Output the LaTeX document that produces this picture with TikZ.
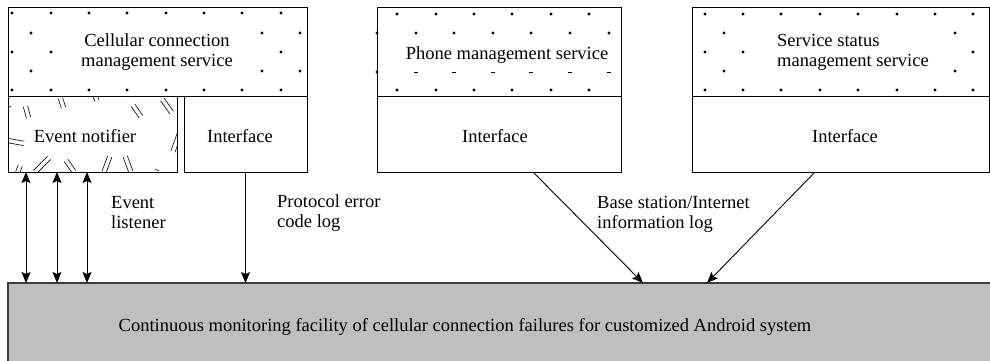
\documentclass[tikz,border=0pt]{standalone}
\usepackage{fontspec}
\setmainfont{Liberation Serif}
\usetikzlibrary{arrows.meta}
\definecolor{monfill}{RGB}{190,191,193}
\definecolor{monline}{RGB}{60,60,60}
\newcommand\hatchmark[4]{%
  \begin{scope}[shift={(#1,#2)},rotate=#3]
    \draw[hatchline] (-#4/2,-2.2) -- (#4/2,-2.2);
    \draw[hatchline] (-#4/2,2.2) -- (#4/2,2.2);
  \end{scope}}
\begin{document}
\begin{tikzpicture}[x=1pt,y=-1pt,
  blk/.style={draw=black,line width=1pt,inner sep=0pt,outer sep=0pt},
  txt/.style={font=\fontsize{18.5}{20}\selectfont,inner sep=0pt,align=center},
  txtl/.style={font=\fontsize{18.5}{20}\selectfont,inner sep=0pt,align=left,anchor=west},
  hatchline/.style={line width=0.6pt},
  arr/.style={line width=0.9pt,-{Stealth[length=11pt,width=9pt,inset=2pt]}},
  dbl/.style={line width=0.9pt,{Stealth[length=11pt,width=9pt,inset=2pt]}-{Stealth[length=11pt,width=9pt,inset=2pt]}}]
\clip (0,0) rectangle (990,360);
\fill[white] (0,0) rectangle (990,360);

% bottom facility
\node[blk,draw=monline,line width=1.3pt,fill=monfill,minimum width=987pt,minimum height=82pt] (mon) at (501.5,324) {};
\node[txt] (montext) at (465,327) {Continuous monitoring facility of cellular connection failures for customized Android system};

% service boxes
\node[blk,minimum width=299pt,minimum height=89pt] (s1) at (157.5,51.5) {};
\node[blk,minimum width=169pt,minimum height=76pt] (en) at (92.5,134) {};
\node[blk,minimum width=123pt,minimum height=76pt] (if1) at (245.5,134) {};
\node[blk,minimum width=244pt,minimum height=89pt] (s2) at (499,51.5) {};
\node[blk,minimum width=244pt,minimum height=76pt] (if2) at (499,134) {};
\node[blk,minimum width=297pt,minimum height=89pt] (s3) at (840.5,51.5) {};
\node[blk,minimum width=297pt,minimum height=76pt] (if3) at (840.5,134) {};

% dots box 1
\foreach \x in {12,51,89,127,166,204,242,281}{\fill (\x,13) circle (1.6pt); \fill (\x,90) circle (1.6pt);}
\foreach \x in {31,262,300}{\fill (\x,33) circle (1.6pt); \fill (\x,71) circle (1.6pt);}
\foreach \x in {12,51,281}{\fill (\x,52) circle (1.6pt);}
% dots box 2
\foreach \x in {397,436,474,512,551,589}{\fill (\x,14) circle (1.6pt); \fill (\x,90) circle (1.6pt);}
\foreach \x in {377,416,454,493,531,570,609}{\fill (\x,33) circle (1.6pt);}
\fill (377,72) circle (1.6pt);
\foreach \x in {416,454,493,531,570,609}{\draw[line width=1pt] (\x-1.8,72) -- (\x+1.8,72);}
% dots box 3
\foreach \x in {705,743,781,820,858,897,935,973}{\fill (\x,14) circle (1.6pt); \fill (\x,90) circle (1.6pt);}
\foreach \x in {724,955}{\fill (\x,33) circle (1.6pt); \fill (\x,71) circle (1.6pt);}
\foreach \x in {705,743,973}{\fill (\x,52) circle (1.6pt);}

% hatch marks in event notifier
\begin{scope}
\clip (en.north west) rectangle (en.south east);
\hatchmark{62}{103}{-72}{10}
\hatchmark{96}{98}{-70}{6}
\hatchmark{137}{111}{-55}{14}
\hatchmark{167}{106}{-55}{16}
\hatchmark{27}{112}{-75}{12}
\hatchmark{16}{142}{-10}{16}
\hatchmark{176}{143}{70}{18}
\hatchmark{19}{169}{70}{7}
\hatchmark{42}{165}{45}{20}
\hatchmark{70}{166}{-55}{14}
\hatchmark{107}{164}{70}{16}
\hatchmark{128}{164}{-70}{16}
\draw[hatchline] (8,108) -- (11,106);
\draw[hatchline] (155,169) -- (159,171);
\end{scope}

% texts
\node[txt] (t1) at (157,52) {Cellular connection\\management service};
\node[txt] (t2) at (507,55) {Phone management service};
\node[txtl] (t3) at (777,52) {Service status\\management service};
\node[txt] (ten) at (85,136) {Event notifier};
\node[txt] (tif1) at (240,136) {Interface};
\node[txt] (tif2) at (495,136) {Interface};
\node[txt] (tif3) at (845,136) {Interface};

% connectors
\draw[dbl] ([xshift=18pt]en.south west) -- ([xshift=18pt]en.south west |- mon.north);
\draw[dbl] ([xshift=49pt]en.south west) -- ([xshift=49pt]en.south west |- mon.north);
\draw[dbl] ([xshift=79pt]en.south west) -- ([xshift=79pt]en.south west |- mon.north);
\draw[arr] (if1.south) -- (if1.south |- mon.north);
\coordinate (m1) at (643,283);
\coordinate (m2) at (707,283);
\draw[arr] ([xshift=156pt]if2.south west) -- (m1);
\draw[arr] ([xshift=123pt]if3.south west) -- (m2);

% labels
\node[txtl] (l1) at (111,213) {Event\\listener};
\node[txtl] (l2) at (277,213) {Protocol error\\code log};
\node[txtl] (l3) at (597,214) {Base station/Internet\\information log};
\end{tikzpicture}
\end{document}
